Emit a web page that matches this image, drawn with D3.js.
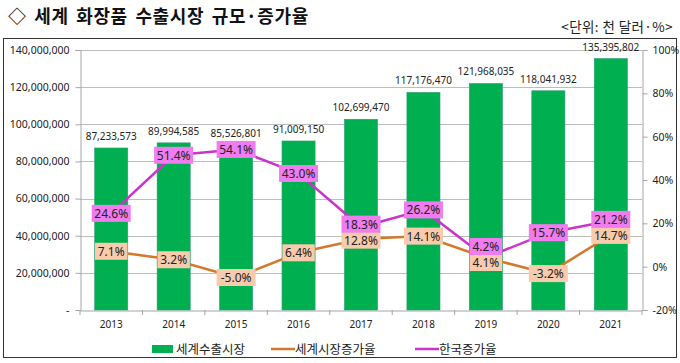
<!DOCTYPE html>
<html>
<head>
<meta charset="utf-8">
<script src="https://cdn.jsdelivr.net/npm/d3@7"></script>
<style>
  body { margin: 0; background: #fff; }
  text { font-family: "Noto Sans", "Noto Sans CJK KR", sans-serif; }
  .kr { font-family: "Noto Sans CJK KR", sans-serif; }
</style>
</head>
<body>
<div id="chart"></div>
<script>
// data
let years = ["2013", "2014", "2015", "2016", "2017", "2018", "2019", "2020", "2021"];
let worldExport = [87233573, 89994585, 85526801, 91009150, 102699470, 117176470, 121968035, 118041932, 135395802];
let worldGrowth = [7.1, 3.2, -5.0, 6.4, 12.8, 14.1, 4.1, -3.2, 14.7];
let koreaGrowth = [24.6, 51.4, 54.1, 43.0, 18.3, 26.2, 4.2, 15.7, 21.2];
let leftTicks = [0, 20000000, 40000000, 60000000, 80000000, 100000000, 120000000, 140000000];
let rightTicks = [-20, 0, 20, 40, 60, 80, 100];
let seriesNames = ["세계수출시장", "세계시장증가율", "한국증가율"];

let svgwidth = 680;
let svgheight = 363;
let plot = { left: 80, right: 642, top: 50, bottom: 310 };

let green = "#00B050";
let orange = "#D4782B";
let magenta = "#CC33CC";

let svg = d3.select("#chart")
    .append("svg")
    .attr("width", svgwidth)
    .attr("height", svgheight);

// title + unit
svg.append("text")
    .attr("class", "kr")
    .attr("x", 8)
    .attr("y", 23)
    .attr("font-size", 18)
    .attr("font-weight", "bold")
    .attr("letter-spacing", 0.6)
    .attr("word-spacing", 3)
    .attr("fill", "#111")
    .text("◇ 세계 화장품 수출시장 규모·증가율");

svg.append("text")
    .attr("class", "kr")
    .attr("x", 673)
    .attr("y", 32)
    .attr("text-anchor", "end")
    .attr("font-size", 13.5)
    .attr("letter-spacing", 0.4)
    .attr("fill", "#222")
    .text("<단위: 천 달러·%>");

// outer chart frame
svg.append("rect")
    .attr("x", 3.5)
    .attr("y", 38.5)
    .attr("width", 673)
    .attr("height", 319)
    .attr("fill", "none")
    .attr("stroke", "#333")
    .attr("stroke-width", 1);

let x = d3.scaleBand()
    .domain(years)
    .range([plot.left, plot.right])
    .paddingInner(0.47)
    .paddingOuter(0.235);

let xc = d => x(d) + x.bandwidth() / 2;

let yLeft = d3.scaleLinear()
    .domain([0, 140000000])
    .range([plot.bottom, plot.top]);

let yRight = d3.scaleLinear()
    .domain([-20, 100])
    .range([plot.bottom, plot.top]);

// gridlines
svg.append("g")
    .selectAll("line")
    .data(leftTicks.slice(1))
    .enter()
    .append("line")
    .attr("x1", plot.left)
    .attr("x2", plot.right)
    .attr("y1", d => Math.round(yLeft(d)) + 0.5)
    .attr("y2", d => Math.round(yLeft(d)) + 0.5)
    .attr("stroke", "#BDBDBD")
    .attr("stroke-width", 1);

// left axis
let leftAxis = d3.axisLeft(yLeft)
    .tickValues(leftTicks)
    .tickSize(5)
    .tickPadding(6)
    .tickFormat(d => d === 0 ? "-" : d3.format(",")(d));

let gLeft = svg.append("g")
    .attr("transform", `translate(${plot.left + 0.5}, 0)`)
    .call(leftAxis);

// right axis
let rightAxis = d3.axisRight(yRight)
    .tickValues(rightTicks)
    .tickSize(5)
    .tickPadding(5)
    .tickFormat(d => d + "%");

let gRight = svg.append("g")
    .attr("transform", `translate(${plot.right + 0.5}, 0)`)
    .call(rightAxis);

// bottom axis
let bottomAxis = d3.axisBottom(x)
    .tickSize(0)
    .tickPadding(10);

let gBottom = svg.append("g")
    .attr("transform", `translate(0, ${plot.bottom + 0.5})`)
    .call(bottomAxis);

// category boundary ticks
svg.append("g")
    .selectAll("line")
    .data(d3.range(years.length + 1))
    .enter()
    .append("line")
    .attr("x1", i => plot.left + i * (plot.right - plot.left) / years.length)
    .attr("x2", i => plot.left + i * (plot.right - plot.left) / years.length)
    .attr("y1", plot.bottom)
    .attr("y2", plot.bottom + 5)
    .attr("stroke", "#A6A6A6");

[gLeft, gRight, gBottom].forEach(g => {
    g.select(".domain").attr("stroke", "#A6A6A6");
    g.selectAll(".tick line").attr("stroke", "#A6A6A6");
    g.selectAll(".tick text")
        .attr("fill", "#222")
        .attr("font-size", 10.5)
        .attr("font-family", "Noto Sans, sans-serif");
});
gBottom.selectAll(".tick text").attr("font-size", 10);

// bars
svg.append("g")
    .selectAll("rect")
    .data(worldExport)
    .enter()
    .append("rect")
    .attr("x", (d, i) => x(years[i]))
    .attr("y", d => yLeft(d))
    .attr("width", x.bandwidth())
    .attr("height", d => plot.bottom - yLeft(d))
    .attr("fill", green)
    .attr("stroke", "#2A9D72")
    .attr("stroke-width", 0.6);

// lines
let line = d3.line()
    .x((d, i) => xc(years[i]))
    .y(d => yRight(d));

svg.append("path")
    .datum(worldGrowth)
    .attr("d", line)
    .attr("fill", "none")
    .attr("stroke", orange)
    .attr("stroke-width", 2.5);

svg.append("path")
    .datum(koreaGrowth)
    .attr("d", line)
    .attr("fill", "none")
    .attr("stroke", magenta)
    .attr("stroke-width", 2.5);

// label positions, pushed apart where they collide
let worldY = worldGrowth.map(d => yRight(d));
let koreaY = koreaGrowth.map((d, i) => {
    let ky = yRight(d);
    let gap = worldY[i] - ky;
    if (gap < 16) {
        let shift = 16 - gap;
        worldY[i] += shift * 0.3;
        ky -= shift * 0.7;
    }
    return ky;
});

// bar value labels (kept clear of the korea labels)
svg.append("g")
    .selectAll("text")
    .data(worldExport)
    .enter()
    .append("text")
    .attr("x", (d, i) => xc(years[i]))
    .attr("y", (d, i) => Math.min(yLeft(d) - 8, koreaY[i] - 12.5))
    .attr("text-anchor", "middle")
    .attr("font-size", 10)
    .attr("fill", "#222")
    .text(d => d3.format(",")(d));

function addLabels(values, ys, fill) {
    let g = svg.append("g");
    values.forEach((d, i) => {
        let txt = d.toFixed(1) + "%";
        let w = txt.length * 6.6 + 6;
        let h = 17;
        g.append("rect")
            .attr("x", xc(years[i]) - w / 2)
            .attr("y", ys[i] - h / 2)
            .attr("width", w)
            .attr("height", h)
            .attr("fill", fill);
        g.append("text")
            .attr("x", xc(years[i]))
            .attr("y", ys[i] + 4.5)
            .attr("text-anchor", "middle")
            .attr("font-size", 12)
            .attr("fill", "#222")
            .text(txt);
    });
}

addLabels(worldGrowth, worldY, "#F8CBAD");
addLabels(koreaGrowth, koreaY, "#F07CF0");

// legend
let legendItems = [
    { name: seriesNames[0], color: green, type: "box", x: 152 },
    { name: seriesNames[1], color: orange, type: "line", x: 271 },
    { name: seriesNames[2], color: magenta, type: "line", x: 415 }
];
let ly = 349;
let legend = svg.append("g");
legendItems.forEach(item => {
    if (item.type === "box") {
        legend.append("rect")
            .attr("x", item.x)
            .attr("y", ly - 4)
            .attr("width", 21)
            .attr("height", 8)
            .attr("fill", item.color);
    } else {
        legend.append("line")
            .attr("x1", item.x)
            .attr("x2", item.x + 24)
            .attr("y1", ly)
            .attr("y2", ly)
            .attr("stroke", item.color)
            .attr("stroke-width", 2.5);
    }
    legend.append("text")
        .attr("class", "kr")
        .attr("x", item.x + 24)
        .attr("y", ly + 4.5)
        .attr("font-size", 12.5)
        .attr("fill", "#222")
        .text(item.name);
});
</script>
</body>
</html>
